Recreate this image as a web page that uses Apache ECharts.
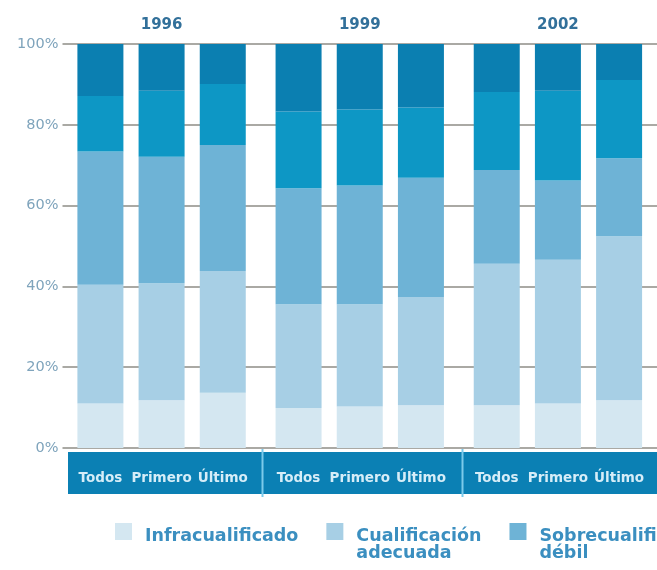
<!DOCTYPE html>
<html>
<head>
<meta charset="utf-8">
<title>Cualificación por cohorte</title>
<script src="https://cdn.jsdelivr.net/npm/echarts@6/dist/echarts.min.js"></script>
<style>
  html, body { margin: 0; padding: 0; background: #ffffff; }
  #chart { width: 657px; height: 570px; }
</style>
</head>
<body>
<div id="chart"></div>
<script>
// Survey years and the cohorts shown for each year
const years = ['1996', '1999', '2002'];
const cohorts = ['Todos', 'Primero', 'Último'];

// Stacked layers, bottom to top
const layers = [
  'Infracualificado',
  'Cualificación adecuada',
  'Sobrecualificación débil',
  'Sobrecualificación media',
  'Sobrecualificación fuerte'
];

// Shares (%) ordered 1996 Todos/Primero/Último, 1999 ..., 2002 ...
const infracualificado      = [11.0, 11.8, 13.7,  9.9, 10.3, 10.6, 10.6, 11.0, 11.8];
const cualificacionAdecuada = [29.4, 29.0, 30.1, 25.7, 25.3, 26.8, 35.0, 35.6, 40.6];
const sobreDebil            = [33.0, 31.3, 31.2, 28.7, 29.4, 29.5, 23.2, 19.6, 19.3];
const sobreMedia            = [13.7, 16.3, 15.1, 19.0, 18.8, 17.4, 19.3, 22.2, 19.4];
const sobreFuerte           = [12.9, 11.6,  9.9, 16.7, 16.2, 15.7, 11.9, 11.6,  8.9];

// Percentage axis ticks
const yTicks = [0, 20, 40, 60, 80, 100];

const layerValues = [infracualificado, cualificacionAdecuada, sobreDebil, sobreMedia, sobreFuerte];
const layerColors = ['#d4e7f1', '#a7cfe5', '#6eb3d6', '#0d97c5', '#0b7fb1'];

const FONT = 'DejaVu Sans';

const series = [];
cohorts.forEach(function (cohort, c) {
  layers.forEach(function (layer, l) {
    const s = {
      type: 'bar',
      name: layer,
      stack: cohort,
      barWidth: 46,
      barGap: '33%',
      itemStyle: { color: layerColors[l] },
      emphasis: { disabled: true },
      data: years.map(function (y, i) { return layerValues[l][i * cohorts.length + c]; })
    };
    if (l === 0) {
      // cohort name printed in the band under each bar
      s.label = {
        show: true,
        position: 'bottom',
        distance: 23,
        formatter: function () { return cohort; },
        color: '#d6edf8',
        fontFamily: FONT,
        fontWeight: 'bold',
        fontSize: 13.5
      };
    }
    series.push(s);
  });
});

const chart = echarts.init(document.getElementById('chart'), null, { renderer: 'canvas' });

// legend swatch: a square at the top of a taller box, so the text hangs below it
const swatch = 'path://M0,0H17V17H0Z M0,43.99H0.01V44H0Z';

chart.setOption({
  animation: false,
  backgroundColor: '#ffffff',
  grid: { left: 62.5, right: -5.5, top: 44, bottom: 122 },
  xAxis: {
    type: 'category',
    data: years,
    position: 'top',
    axisLine: { show: false },
    axisTick: { show: false },
    axisLabel: {
      color: '#32709a',
      fontFamily: FONT,
      fontWeight: 'bold',
      fontSize: 15,
      margin: 11
    }
  },
  yAxis: {
    type: 'value',
    min: yTicks[0],
    max: yTicks[yTicks.length - 1],
    interval: yTicks[1] - yTicks[0],
    axisLine: { show: false },
    axisTick: { show: false },
    axisLabel: {
      formatter: '{value}%',
      color: '#7fa4bc',
      fontFamily: FONT,
      fontSize: 14.5,
      margin: 4
    },
    splitLine: { lineStyle: { color: '#8e8d86', width: 1.5 } }
  },
  legend: {
    data: layers,
    formatter: function (name) {
      // two text lines for every entry so the first line sits beside the swatch
      return name.indexOf(' ') >= 0 ? name.replace(' ', '\n') : name + '\n';
    },
    left: 115,
    top: 523,
    width: 1200,
    padding: 0,
    itemWidth: 17,
    itemHeight: 44,
    itemGap: 28,
    icon: swatch,
    selectedMode: false,
    textStyle: {
      color: '#3b8fc0',
      fontFamily: FONT,
      fontWeight: 'bold',
      fontSize: 17.5,
      lineHeight: 17,
      padding: [0, 0, 0, 8]
    }
  },
  graphic: [
    // dark band carrying the cohort names
    { type: 'rect', z: 0, shape: { x: 68, y: 452, width: 600, height: 42 }, style: { fill: '#0b80b4' } },
    // light dividers between the years
    { type: 'rect', z: 0, shape: { x: 261.5, y: 449, width: 2, height: 48 }, style: { fill: '#7ccaea' } },
    { type: 'rect', z: 0, shape: { x: 461.5, y: 449, width: 2, height: 48 }, style: { fill: '#7ccaea' } }
  ],
  series: series
});
</script>
</body>
</html>
